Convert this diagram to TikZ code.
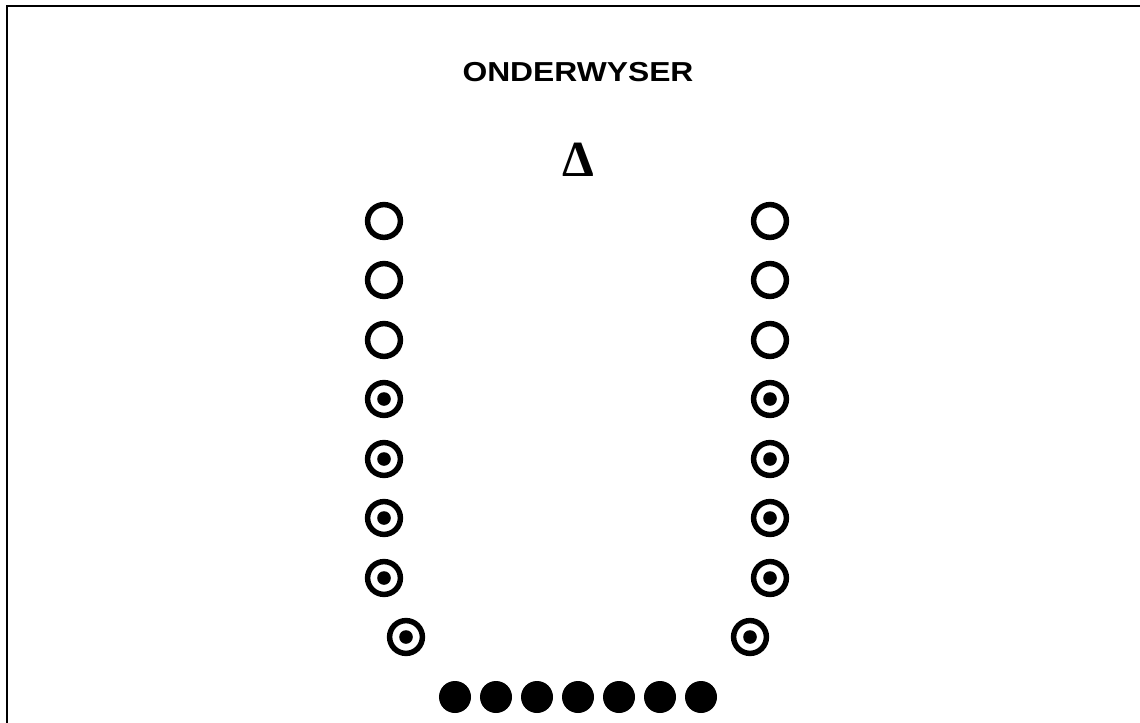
\documentclass[tikz,border=0pt]{standalone}
\usepackage{fontspec}
\setsansfont{Liberation Sans}
\newfontfamily\deltafont{Liberation Serif}
\usepackage{tikz}

\tikzset{
  ring/.style={circle, draw, line width=3.9pt, minimum size=0.82cm, inner sep=0pt},
  ringdot/.style={ring, path picture={\fill (path picture bounding box.center) circle (0.17cm);}},
  fulldot/.style={circle, fill, minimum size=0.8cm, inner sep=0pt}
}

\begin{document}
\begin{tikzpicture}[x=0.025cm, y=-0.025cm]
  \useasboundingbox (0,0) rectangle (1140,723);

  % raam
  \draw[line width=1.4pt] (7,723) -- (7,6) -- (1140,6);

  % opskrif en onderwyser
  \node[font=\sffamily\bfseries\fontsize{19.5}{22}\selectfont, xscale=1.16, transform shape] (titel) at (578,72) {ONDERWYSER};
  \node[font=\deltafont\bfseries\fontsize{36}{40}\selectfont] (onderwyser) at (578,160) {Δ};

  % leë sitplekke
  \foreach \i/\y in {1/221, 2/280, 3/340} {
    \node[ring] (links\i) at (384,\y) {};
    \node[ring] (regs\i) at (770,\y) {};
  }

  % sitplekke met kol
  \foreach \i/\y in {4/399, 5/459, 6/518, 7/578} {
    \node[ringdot] (links\i) at (384,\y) {};
    \node[ringdot] (regs\i) at (770,\y) {};
  }
  \node[ringdot] (links8) at (406,637) {};
  \node[ringdot] (regs8) at (750,637) {};

  % volle kolle onder
  \foreach \i in {0,...,6}
    \node[fulldot] (onder\i) at ({455+41*\i},697) {};
\end{tikzpicture}
\end{document}
